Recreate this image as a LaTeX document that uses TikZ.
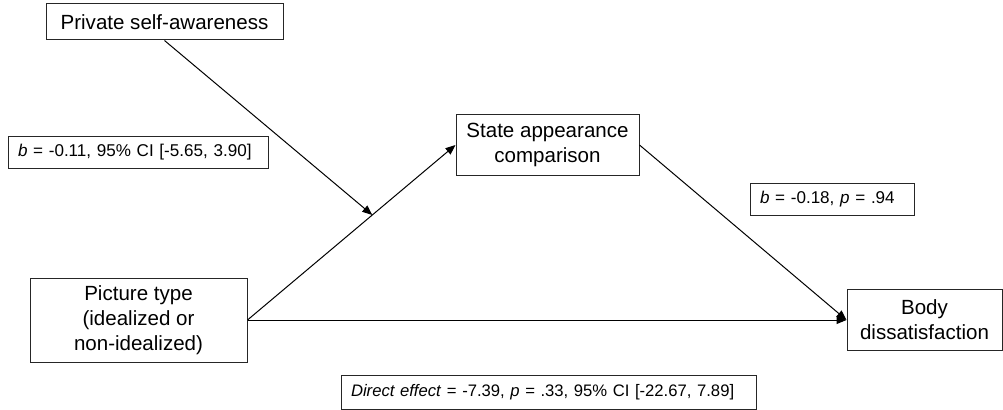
\documentclass[tikz,border=0pt]{standalone}
\usepackage{fontspec}
\setmainfont{Liberation Sans}
\usetikzlibrary{arrows.meta,calc}

\begin{document}
\begin{tikzpicture}[x=0.75pt, y=-0.75pt, line width=0.75pt, >={Triangle[length=7.5pt,width=6pt]},
	every node/.style={draw=black!85, rectangle, inner sep=0pt, font=\fontsize{15.4}{18.8}\selectfont, align=center},
	stat/.style={align=left, inner xsep=7.5pt, font=\fontsize{12.8}{15.4}\selectfont}]
	\useasboundingbox (0,0) rectangle (1003,410);
	\node[minimum width=177.75pt, minimum height=27pt](PSA) at (164.5, 22) {Private self-awareness};
	\node[minimum width=137.25pt, minimum height=45.75pt](SAC) at (547.5, 145) {State appearance\\comparison};
	\node[minimum width=162.75pt, minimum height=63pt](PT) at (138.5, 320) {Picture type\\(idealized or\\non-idealized)};
	\node[minimum width=116.25pt, minimum height=45.75pt](BD) at (924.5, 320) {Body\\dissatisfaction};
	\node[stat, text width=180pt, minimum height=24pt](L1) at (138, 152) {\textit{b} = -0.11, 95\% CI [-5.65, 3.90]};
	\node[stat, text width=108pt, minimum height=24pt](L2) at (832, 199) {\textit{b} = -0.18, \textit{p} = .94};
	\node[stat, font=\fontsize{12.5}{15}\selectfont, text width=296.25pt, minimum height=25.5pt](L3) at (548.5, 392) {\textit{Direct effect} = -7.39, \textit{p} = .33, 95\% CI [-22.67, 7.89]};
	\coordinate(M) at ($(PT.east)!0.6!(SAC.west)$);
	\draw[->](PT.east) -- (SAC.west);
	\draw[->](PT.east) -- (BD.west);
	\draw[->](SAC.east) -- (BD.west);
	\draw[->](PSA.south) -- (M);
\end{tikzpicture}
\end{document}
